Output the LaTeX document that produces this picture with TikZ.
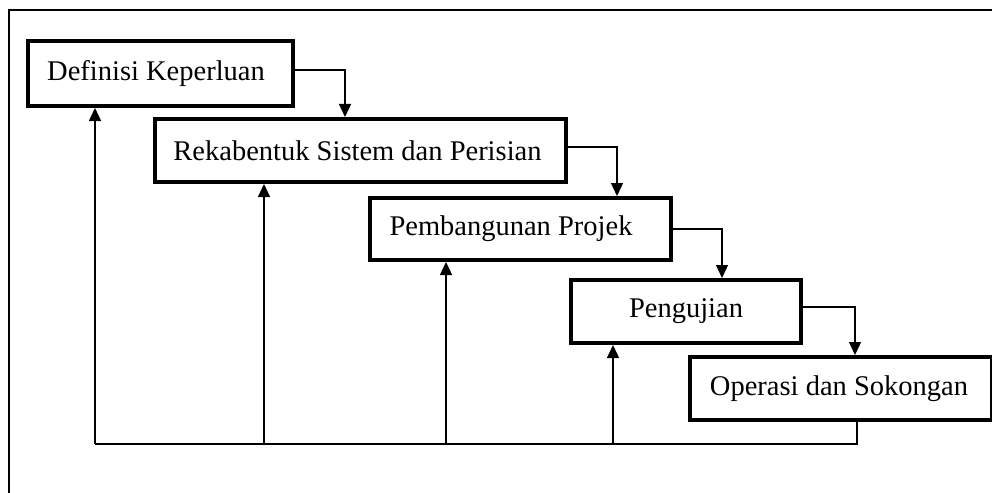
\documentclass[tikz,border=0pt]{standalone}
\usepackage{fontspec}
\setmainfont{Liberation Serif}
\usetikzlibrary{arrows.meta}
\tikzset{
  stagebox/.style={draw=black, line width=4pt, fill=white, inner sep=0pt, anchor=center},
  lbl/.style={inner sep=0pt, font=\fontsize{28.5}{32}\selectfont, text=black},
  thin/.style={draw=black, line width=1.3pt},
  arr/.style={thin, -{Triangle[length=13pt,width=12pt]}},
}
\begin{document}
\begin{tikzpicture}[x=1pt,y=-1pt]
\useasboundingbox (0,0) rectangle (992,492);
\clip (0,0) rectangle (992,492);
\fill[white] (0,0) rectangle (992,492);
% outer frame
\draw[thin] (9,10) rectangle (1100,600);
% boxes
\node[stagebox, minimum width=265pt, minimum height=65pt] (b1) at (160.5,73.5) {};
\node[stagebox, minimum width=411pt, minimum height=63pt] (b2) at (360.5,150.5) {};
\node[stagebox, minimum width=301pt, minimum height=62pt] (b3) at (520.5,229) {};
\node[stagebox, minimum width=230pt, minimum height=63pt] (b4) at (686,311.5) {};
\node[stagebox, minimum width=302pt, minimum height=63pt] (b5) at (841,388.5) {};
% labels
\node[lbl] (t1) at ([xshift=-4.5pt]b1.center) {Definisi Keperluan};
\node[lbl] (t2) at ([xshift=-3pt]b2.center) {Rekabentuk Sistem dan Perisian};
\node[lbl] (t3) at ([xshift=-9.5pt]b3.center) {Pembangunan Projek};
\node[lbl] (t4) at (b4.center) {Pengujian};
\node[lbl] (t5) at ([xshift=-2pt]b5.center) {Operasi dan Sokongan};
% forward arrows
\draw[arr] ([yshift=3.5pt]b1.east) -| ([xshift=-15.5pt]b2.north);
\draw[arr] ([yshift=3.5pt]b2.east) -| ([xshift=96.5pt]b3.north);
\draw[arr] (b3.east) -| ([xshift=36pt]b4.north);
\draw[arr] ([yshift=4.5pt]b4.east) -| ([xshift=14pt]b5.north);
% feedback
\coordinate (bl) at (95,444);
\coordinate (br) at (857,444);
\draw[thin] ([xshift=16pt]b5.south) -- (br) -- (bl);
\draw[arr] (bl) -- (bl |- b1.south);
\draw[arr] ([xshift=-96.5pt]b2.south |- bl) -- ([xshift=-96.5pt]b2.south);
\draw[arr] ([xshift=-74.5pt]b3.south |- bl) -- ([xshift=-74.5pt]b3.south);
\draw[arr] ([xshift=-73pt]b4.south |- bl) -- ([xshift=-73pt]b4.south);
\end{tikzpicture}
\end{document}
